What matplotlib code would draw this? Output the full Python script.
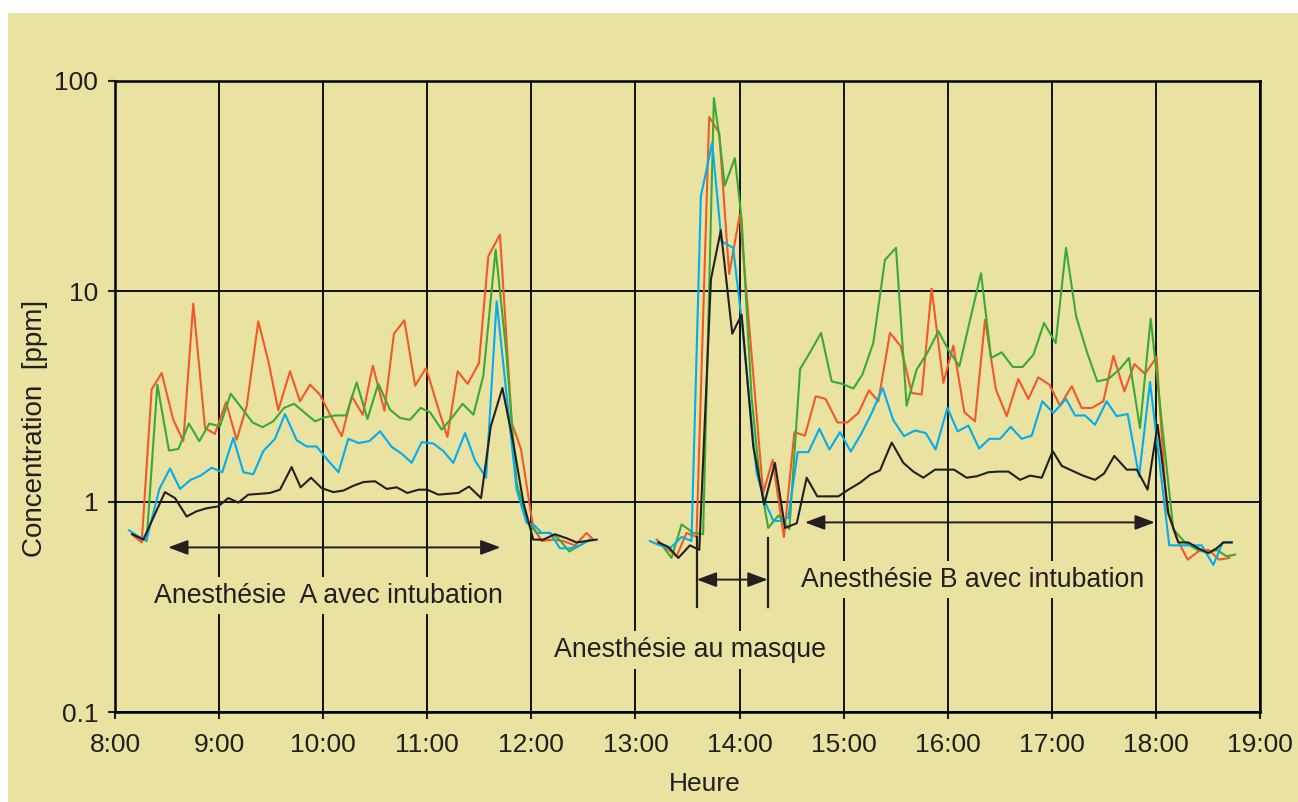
import numpy as np
import matplotlib
matplotlib.use("Agg")
import matplotlib.pyplot as plt
from matplotlib.patches import Rectangle, ArrowStyle

plt.rcParams['font.family'] = ['Liberation Sans', 'DejaVu Sans']

BG = "#E9E2A1"
INK = "#231F20"
RED = "#F05A28"
GREEN = "#3AAA35"
BLUE = "#00AEEF"
BLACK = "#231F20"

# time in minutes after 8:00, concentration in ppm; morning (A) and afternoon (B) runs
red_a_t = [9.6, 15.4, 21.1, 26.9, 33.6, 39.4, 45.1, 51.9, 57.6, 64, 70.1, 75.9, 82.6, 88.4, 94.1,
           100.9, 106.6, 112.4, 118.1, 124, 130.7, 136.5, 142.8, 148.6, 155.3, 160.8, 166.8, 173,
           179.3, 185.4, 191.6, 197.5, 203.3, 209.8, 215.2, 221.9, 228.7, 234, 241, 245.9, 252.6,
           258.4, 265.1, 271.8, 275.7]
red_a_v = [0.70, 0.64, 3.41, 4.09, 2.45, 1.94, 8.74, 2.24, 2.1, 2.97, 1.97, 2.84, 7.2, 4.65, 2.72,
           4.17, 3.0, 3.6, 3.23, 2.59, 2.05, 3.17, 2.59, 4.43, 2.71, 6.29, 7.28, 3.56,
           4.32, 2.94, 2.03, 4.17, 3.63, 4.56, 14.7, 18.6, 2.37, 1.78, 0.76, 0.65, 0.66,
           0.65, 0.62, 0.71, 0.66]
red_b_t = [312.2, 318, 323.7, 329.4, 335.2, 342.5, 348.3, 354, 360.2, 373.6, 379.1, 385.6, 391.6,
           397.7, 403.9, 409.6, 416.4, 422.1, 428.5, 434.6, 440, 446.7, 452.9, 459.2, 465, 470.7,
           477.5, 483.2, 489.6, 495.7, 501.5, 507.8, 514, 520.7, 526.5, 532.2, 538.6, 544.7, 551.5,
           557.2, 563, 569.7, 575.5, 581.8, 587.6, 593.7, 600.4, 606.2, 612, 618.3, 624.4, 630.2,
           636.6, 642.3]
red_b_v = [0.66, 0.60, 0.55, 0.71, 0.68, 67.5, 56.6, 12.1, 23.2, 1.1, 1.58, 0.68, 2.14,
           2.06, 3.17, 3.08, 2.38, 2.38, 2.64, 3.38, 3.0, 6.34, 5.48, 3.29, 3.23, 10.3,
           3.67, 5.52, 2.66, 2.41, 7.33, 3.41, 2.55, 3.83, 3.08, 3.90, 3.6, 2.86, 3.54,
           2.79, 2.79, 3.0, 4.94, 3.35, 4.51, 4.05, 4.87, 0.92, 0.67, 0.53, 0.58, 0.59,
           0.53, 0.54]

green_a_t = [10.6, 18.2, 24.4, 31.1, 36.5, 42.6, 48.6, 54.4, 60.5, 66.7, 73, 79.3, 85.1, 91.2, 97.4,
             103.2, 109.5, 115.3, 121, 127, 133.2, 139.3, 145.5, 151.8, 158.5, 164.3, 170, 176.2,
             181.6, 188.3, 194.1, 200.4, 206.6, 212.3, 219.4, 225.4, 231.5, 237.3, 243, 250.7,
             255.5, 261.8, 268, 273.7]
green_a_v = [0.70, 0.65, 3.6, 1.75, 1.78, 2.35, 1.94, 2.35, 2.28, 3.26, 2.79, 2.38, 2.26, 2.41, 2.79,
             2.92, 2.64, 2.41, 2.52, 2.57, 2.57, 3.69, 2.47, 3.64, 2.74, 2.50, 2.45, 2.79,
             2.66, 2.20, 2.50, 2.92, 2.59, 3.97, 15.8, 5.28, 1.23, 0.81, 0.71, 0.71,
             0.67, 0.58, 0.62, 0.66]
green_b_t = [316, 320.8, 326.6, 333.3, 339, 345.2, 348.3, 351.5, 357.3, 361.2, 366.9, 371.7, 376.5,
             382.4, 388.7, 394.9, 401, 407, 413.1, 419.3, 425.6, 430.8, 437.1, 443.8, 450.2, 456.3,
             462.1, 468.2, 474.6, 480.3, 486.7, 492.9, 499.2, 505, 511.1, 517.5, 523.2, 529.4,
             535.5, 542.2, 548.2, 554, 560.1, 566.2, 572.6, 578.9, 584.5, 590.8, 597, 610, 616.8,
             623.9, 630.2, 635, 640.8, 645.6]
green_b_v = [0.61, 0.54, 0.78, 0.71, 0.70, 83, 54.6, 31.8, 43, 21.9, 3.17, 1.27, 0.75,
             0.86, 0.74, 4.27, 5.19, 6.34, 3.73, 3.63, 3.45, 4.02, 5.68, 14.1, 16.1, 2.86,
             4.25, 5.09, 6.46, 5.28, 4.4, 7.33, 12.2, 4.82, 5.13, 4.37, 4.37, 5.0,
             7.07, 5.68, 16.1, 7.61, 5.19, 3.73, 3.83, 4.25, 4.82, 2.24, 7.42, 0.74, 0.64,
             0.59, 0.57, 0.59, 0.55, 0.56]

blue_a_t = [8.1, 14, 18.2, 25.6, 31.7, 37.5, 43.6, 49.4, 55.7, 61.8, 68.2, 74, 79.7, 85.5, 92.2,
            98, 104.7, 110.5, 116.2, 122.5, 128.8, 134.5, 140.3, 146.6, 152.8, 159.5, 165.3, 171,
            176.8, 183.5, 189.3, 195, 201.8, 207.5, 213.9, 220, 225.8, 231.5, 237.3, 241.1, 246,
            250.7, 256.5, 262.2, 268, 273.7]
blue_a_v = [0.73, 0.68, 0.66, 1.15, 1.44, 1.15, 1.27, 1.33, 1.45, 1.38, 2.01, 1.38, 1.35, 1.74, 1.99,
            2.61, 1.96, 1.83, 1.83, 1.58, 1.38, 1.99, 1.90, 1.94, 2.16, 1.82, 1.69, 1.53,
            1.92, 1.89, 1.74, 1.53, 2.12, 1.57, 1.30, 8.97, 3.17, 1.14, 0.79, 0.78, 0.71,
            0.71, 0.60, 0.60, 0.62, 0.66]
blue_b_t = [308.3, 314, 319.9, 326.6, 332.3, 337.7, 344.2, 349.6, 356.3, 361.2, 366, 369.8, 374.6,
            379.5, 384.3, 388.1, 393.5, 399.7, 406, 411.8, 417.9, 424.1, 430.4, 436.2, 442.5, 448.6,
            454.8, 461.1, 467.3, 473, 479.8, 485.7, 491.9, 498.1, 504, 510.2, 516.3, 522.6, 528.4,
            534.5, 540.9, 548.2, 553.4, 559.1, 564.9, 571.6, 577.4, 583.7, 590.3, 596.6, 607.7,
            614, 620.6, 626.4, 633.1, 638.5, 643.7]
blue_b_v = [0.65, 0.62, 0.60, 0.68, 0.65, 28.3, 50.8, 17.3, 16.1, 7.3, 2.84, 1.37, 1.0,
            0.81, 0.81, 0.84, 1.72, 1.72, 2.22, 1.77, 2.14, 1.73, 2.12, 2.64, 3.47, 2.44,
            2.05, 2.18, 2.12, 1.77, 2.79, 2.16, 2.30, 1.79, 1.99, 1.99, 2.27, 1.99, 2.06,
            3.0, 2.64, 3.08, 2.57, 2.57, 2.32, 3.0, 2.55, 2.61, 1.32, 3.71, 0.62,
            0.62, 0.62, 0.62, 0.50, 0.64, 0.64]

black_a_t = [10, 16.3, 28.8, 34.6, 41.3, 47, 52.8, 59.5, 65.3, 71.1, 76.8, 83.6, 89.3, 95.1, 101.8,
             107, 113, 119.1, 125.9, 131.7, 137.4, 143.2, 149.9, 156.6, 162.4, 168.5, 174.9, 180,
             186.4, 192.2, 197.9, 204.1, 211, 216.6, 223.3, 229.6, 235.4, 241.1, 246.9, 253.6,
             260.3, 266.1, 271.8, 277.6]
black_a_v = [0.70, 0.66, 1.11, 1.04, 0.85, 0.90, 0.93, 0.95, 1.04, 0.99, 1.08, 1.09, 1.10, 1.14, 1.46,
             1.17, 1.30, 1.16, 1.11, 1.13, 1.19, 1.24, 1.25, 1.15, 1.17, 1.10, 1.14, 1.14,
             1.08, 1.09, 1.10, 1.18, 1.04, 2.28, 3.47, 1.90, 0.99, 0.66, 0.66, 0.70,
             0.67, 0.64, 0.65, 0.66]
black_b_t = [313.1, 318.9, 324.7, 331.4, 336.8, 343.5, 349.2, 355.8, 361.2, 367.9, 374.2, 380.4,
             386.2, 393, 398.7, 404.8, 411, 417, 422.7, 429.4, 435.2, 441, 447.7, 454.4, 460.2,
             465.9, 472.7, 478.4, 483.6, 490.9, 496.7, 503.4, 509.2, 515, 521.7, 527.4, 534.2,
             540.5, 545.7, 552, 558, 564.9, 570.1, 576, 583.2, 589, 595.2, 601, 607.2, 612.9,
             618.7, 624.5, 630.2, 635, 638.9, 643.7]
black_b_v = [0.64, 0.61, 0.54, 0.62, 0.59, 11.4, 19.5, 6.29, 7.75, 1.83, 0.97, 1.53,
             0.75, 0.79, 1.30, 1.06, 1.06, 1.06, 1.14, 1.23, 1.34, 1.41, 1.91, 1.53, 1.39,
             1.30, 1.42, 1.42, 1.42, 1.30, 1.32, 1.38, 1.39, 1.39, 1.27, 1.33, 1.30,
             1.74, 1.48, 1.40, 1.33, 1.27, 1.36, 1.65, 1.42, 1.42, 1.14, 2.32, 0.88, 0.64,
             0.64, 0.60, 0.57, 0.60, 0.64, 0.64]

hour_labels = ["8:00", "9:00", "10:00", "11:00", "12:00", "13:00", "14:00", "15:00",
               "16:00", "17:00", "18:00", "19:00"]
y_ticks = [0.1, 1, 10, 100]
y_labels = ["0.1", "1", "10", "100"]


def hours(mins):
    return 8 + np.array(mins) / 60.0


fig = plt.figure(figsize=(12.98, 8.02), dpi=100, facecolor="white")
fig.patches.append(Rectangle((8 / 1298, 0), 1, 1 - 13 / 802, transform=fig.transFigure,
                             facecolor=BG, edgecolor="none", zorder=-10))
ax = fig.add_axes([115 / 1298, 1 - 712 / 802, (1260 - 115) / 1298, (712 - 81) / 802])
ax.set_facecolor(BG)

series = [
    (red_a_t, red_a_v, red_b_t, red_b_v, RED),
    (green_a_t, green_a_v, green_b_t, green_b_v, GREEN),
    (blue_a_t, blue_a_v, blue_b_t, blue_b_v, BLUE),
    (black_a_t, black_a_v, black_b_t, black_b_v, BLACK),
]
for ta, va, tb, vb, col in series:
    ax.plot(hours(ta), va, color=col, lw=1.5, zorder=3)
    ax.plot(hours(tb), vb, color=col, lw=1.5, zorder=3)

ax.set_yscale("log")
ax.set_ylim(0.1, 100)
ax.set_xlim(8, 19)
ax.set_xticks(range(8, 20))
ax.set_xticklabels(hour_labels)
ax.set_yticks(y_ticks)
ax.set_yticklabels(y_labels)
ax.yaxis.set_minor_locator(matplotlib.ticker.NullLocator())
ax.tick_params(labelsize=19, colors=INK, length=5, width=1.5, pad=7)
ax.tick_params(axis="x", pad=10)

ax.grid(True, color="black", lw=1.3)
ax.set_axisbelow(True)
for s in ax.spines.values():
    s.set_color("black")
    s.set_linewidth(1.8)

# annotations
arrow = ArrowStyle("<|-|>", head_length=1.2, head_width=0.45)
def harrow(x0, x1, y):
    ax.annotate("", xy=(x1, y), xytext=(x0, y),
                arrowprops=dict(arrowstyle=arrow, mutation_scale=10, color=INK, lw=1.4,
                                shrinkA=0, shrinkB=0), zorder=5)

harrow(hours(30.6), hours(222.2), 0.606)
harrow(hours(335.3), hours(376.2), 0.426)
harrow(hours(397.7), hours(599.4), 0.797)
ax.plot(hours([335.3, 335.3]), [0.68, 0.317], color=INK, lw=1.6, zorder=5)
ax.plot(hours([376.2, 376.2]), [0.674, 0.314], color=INK, lw=1.6, zorder=5)

box = dict(facecolor=BG, edgecolor="none", pad=4)
ax.text(hours(123.3), 0.357, "Anesthésie  A avec intubation", fontsize=19.3, color=INK,
        ha="center", va="center", bbox=box, zorder=4)
ax.text(hours(331.5), 0.197, "Anesthésie au masque", fontsize=19.3, color=INK,
        ha="center", va="center", bbox=box, zorder=4)
ax.text(hours(494.3), 0.425, "Anesthésie B avec intubation", fontsize=19.2, color=INK,
        ha="center", va="center", bbox=box, zorder=4)

fig.text(35 / 1298, 1 - 428 / 802, "Concentration  [ppm]", rotation=90, fontsize=20,
         color=INK, ha="center", va="center")
fig.text(705 / 1298, 1 - 784 / 802, "Heure", fontsize=19, color=INK, ha="center", va="center")

fig.savefig("out.png", dpi=100, facecolor=fig.get_facecolor())
